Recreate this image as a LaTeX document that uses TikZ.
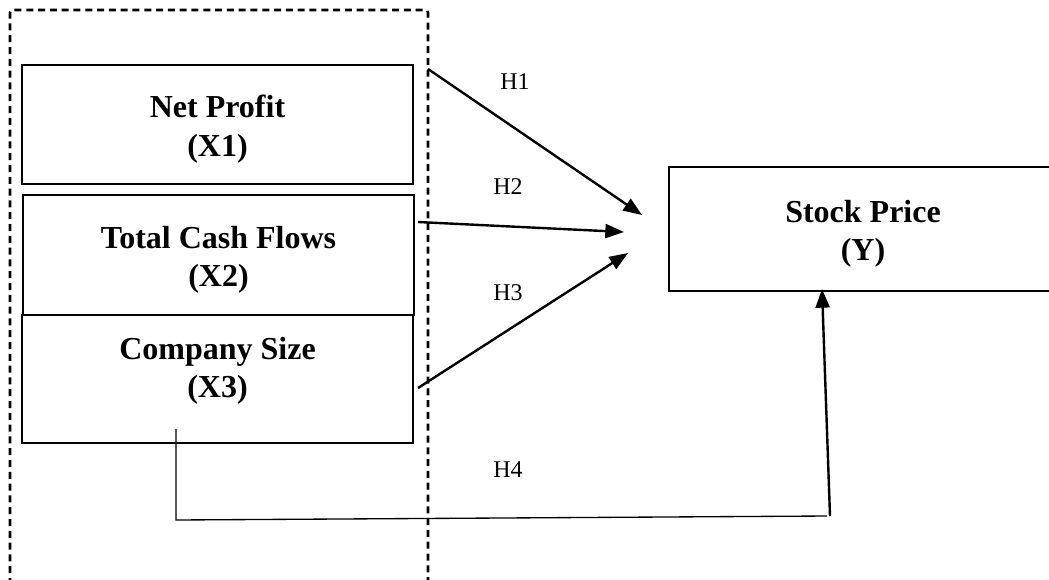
\documentclass[tikz,border=0pt]{standalone}
\usepackage{fontspec}
\setmainfont{Liberation Serif}
\usetikzlibrary{arrows.meta}
\begin{document}
\begin{tikzpicture}[x=0.75pt,y=-0.75pt,
  box/.style={draw,line width=1.9pt,inner sep=0pt},
  txt/.style={align=center,inner sep=0pt,
    font=\fontsize{24}{28.7}\selectfont\bfseries},
  hyp/.style={font=\fontsize{18}{21}\selectfont},
  arr/.style={line width=1.8pt,-{Triangle[length=14pt,width=10.5pt]}},
  thin line/.style={line width=1pt},
  frame/.style={line width=1.9pt,dash pattern=on 5.25pt off 3.6pt,rounded corners=2pt}]
\useasboundingbox (0,0) rectangle (1049,579);
\clip (0,0) rectangle (1049,579);
% dashed frame, open at the bottom
\draw[frame] (10,585) -- (10,10) -- (428,10) -- (428,585);
% boxes
\node[box,minimum width=293.25pt,minimum height=89.25pt,
  label={[txt,yshift=-3.5pt]center:{Net Profit\\(X1)}}] (X1) at (217.5,124.5) {};
\node[box,minimum width=293.25pt,minimum height=90pt,
  label={[txt,yshift=-3.5pt]center:{Total Cash Flows\\(X2)}}] (X2) at (218.5,255) {};
\node[box,minimum width=293.25pt,minimum height=96pt,
  label={[txt,yshift=6pt]center:{Company Size\\(X3)}}] (X3) at (217.5,379) {};
\node[box,minimum width=291pt,minimum height=93pt,
  label={[txt,yshift=-3.5pt]center:{Stock Price\\(Y)}}] (Y) at (863,229) {};
% connector end points
\coordinate (h1s) at (428,69);
\coordinate (h1e) at (642,215);
\coordinate (h2s) at (418,222);
\coordinate (h2e) at (624,232);
\coordinate (h3s) at (418,388);
\coordinate (h3e) at (628,253);
\coordinate (h4a) at (176,429);
\coordinate (h4b) at (176,520);
\coordinate (h4c) at (827,516);
\coordinate (h4d) at (830,516);
\coordinate (h4e) at (822,289);
% connectors
\draw[arr] (h1s) -- (h1e);
\draw[arr] (h2s) -- (h2e);
\draw[arr] (h3s) -- (h3e);
\draw[thin line] (h4a) -- (h4b) -- (h4c);
\draw[arr] (h4d) -- (h4e);
% labels
\node[hyp] (L1) at (515,82) {H1};
\node[hyp] (L2) at (508,187) {H2};
\node[hyp] (L3) at (508,293) {H3};
\node[hyp] (L4) at (508,470) {H4};
\end{tikzpicture}
\end{document}
